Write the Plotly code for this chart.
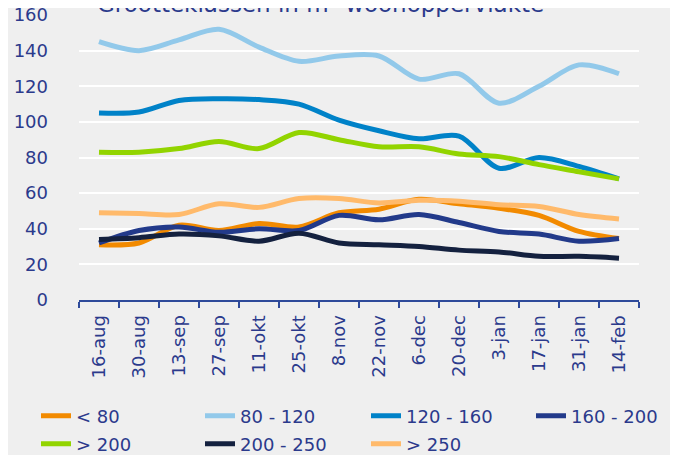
import plotly.graph_objects as go

categories = ["16-aug", "30-aug", "13-sep", "27-sep", "11-okt", "25-okt", "8-nov",
              "22-nov", "6-dec", "20-dec", "3-jan", "17-jan", "31-jan", "14-feb"]

s_lt80 = [31, 32, 42, 39, 43, 41, 49, 51, 56.5, 54, 51.5, 47.5, 38.5, 34.5]
s_80_120 = [145, 140, 146, 152, 142, 134, 137, 137, 124, 127, 110.5, 120, 132, 127]
s_120_160 = [105, 105.5, 112, 113, 112.5, 110, 101, 95, 90.5, 92, 74, 80, 75, 68]
s_160_200 = [32, 39, 41, 38, 40, 39, 47.5, 45, 48, 43.5, 38.5, 37, 33, 34.5]
s_gt200 = [83, 83, 85, 89, 85, 94, 90, 86, 86, 82, 80.5, 76, 72, 68]
s_200_250 = [34, 35, 37, 36, 33, 37.5, 32, 31, 30, 28, 27, 24.5, 24.5, 23.5]
s_gt250 = [49, 48.5, 48, 54, 52, 57, 57, 54.5, 56, 55.5, 53.5, 52.5, 48, 45.5]

series_names = ["< 80", "80 - 120", "120 - 160", "160 - 200", "> 200", "200 - 250", "> 250"]
series_values = [s_lt80, s_80_120, s_120_160, s_160_200, s_gt200, s_200_250, s_gt250]
series_colors = ["#F28A00", "#92C9EA", "#0082C8", "#223A8A", "#92D400", "#14213F", "#FFBA6B"]

title_text = "Grootteklassen in m² woonoppervlakte"
y_ticks = [0, 20, 40, 60, 80, 100, 120, 140, 160]

TXT = "#2B3A8C"
FONT = "DejaVu Sans"
W, H = 670, 447  # page places the figure 8px in from the top-left

# legend entry slots: (column, row)
legend_slots = [(0, 0), (1, 0), (2, 0), (3, 0), (0, 1), (1, 1), (2, 1)]
col_text_x = [68, 232, 398, 563]   # figure px where entry text starts
row_mid_y = [408, 436]             # figure px of entry centre

fig = go.Figure()
layout_legends = {}
for i, (name, vals, col) in enumerate(zip(series_names, series_values, series_colors)):
    lg = "legend" if i == 0 else f"legend{i + 1}"
    fig.add_trace(go.Scatter(
        x=categories, y=vals, name=name, mode="lines", legend=lg,
        line=dict(color=col, width=5, shape="spline", smoothing=0.9),
    ))
    c, r = legend_slots[i]
    layout_legends[lg] = dict(
        xref="container", yref="container",
        x=(col_text_x[c] - 40) / W, y=1 - row_mid_y[r] / H,
        xanchor="left", yanchor="middle",
        font=dict(size=18, color=TXT, family=FONT),
        bgcolor="rgba(0,0,0,0)", borderwidth=0,
    )

fig.update_layout(
    width=W, height=H,
    margin=dict(l=71, r=39, t=7, b=155, autoexpand=False),
    paper_bgcolor="#EFEFEF", plot_bgcolor="#EFEFEF",
    font=dict(family=FONT, color=TXT),
    showlegend=True,
    annotations=[dict(
        text=title_text, xref="paper", yref="paper", x=0.028, y=0.986,
        xanchor="left", yanchor="bottom", showarrow=False,
        font=dict(size=23, color=TXT, family=FONT),
    )],
    **layout_legends,
)

fig.update_xaxes(
    type="category", range=[-0.5, len(categories) - 0.5],
    tickangle=-90, tickson="boundaries", automargin=False,
    ticks="outside", ticklen=6, tickwidth=2, tickcolor="#2E4A9A",
    showline=True, linecolor="#2E4A9A", linewidth=2, ticklabelstandoff=6,
    showgrid=False, tickfont=dict(size=18, color=TXT),
)
fig.update_yaxes(
    range=[0, 160], tickvals=y_ticks, showgrid=True, gridcolor="#FFFFFF", gridwidth=2,
    zeroline=False, showline=False, ticks="", ticklabelstandoff=30, automargin=False,
    ticklabeloverflow="allow", tickfont=dict(size=18, color=TXT),
)

fig.write_html("out.html")
